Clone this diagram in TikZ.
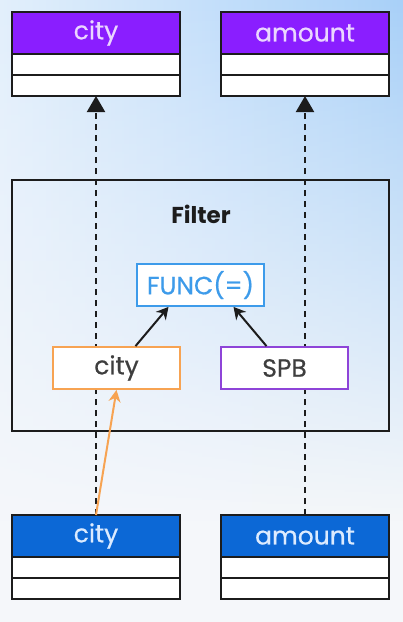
\documentclass[tikz,border=0pt]{standalone}
\usepackage{fontspec}
\setmainfont{Poppins}
\newfontfamily\medfont{Poppins}[FakeBold=0.6]
\usetikzlibrary{arrows.meta,calc,fadings}
\definecolor{hdpurple}{HTML}{8A1EFF}
\definecolor{hdblue}{HTML}{0C68D6}
\definecolor{txpurple}{HTML}{EBD6FF}
\definecolor{txblue}{HTML}{DCEBFF}
\definecolor{orangeln}{HTML}{F7A352}
\definecolor{spbpurple}{HTML}{8E44D8}
\definecolor{funcblue}{HTML}{3D9BEA}
\definecolor{bgleft}{HTML}{E2EFFC}
\definecolor{bgright}{HTML}{A8D0F8}
\definecolor{bgbot}{HTML}{F5F7FA}
\definecolor{ink}{HTML}{1C1C1C}
\tikzset{
  hdr/.style={draw=ink, line width=1.8pt, outer sep=0pt, minimum width=168pt, minimum height=42pt, inner sep=0pt, font=\medfont\fontsize{25}{28}\selectfont},
  row/.style={draw=ink, fill=white, line width=1.8pt, outer sep=0pt, minimum width=168pt, minimum height=21pt, inner sep=0pt},
  inbox/.style={fill=white, line width=1.8pt, minimum width=127pt, minimum height=42pt, inner sep=0pt, font=\medfont\fontsize{25}{28}\selectfont, text=ink!85},
  dashconn/.style={draw=ink, line width=2pt, dash pattern=on 6pt off 5pt, -{Triangle[width=18pt,length=16pt]}},
  solidconn/.style={draw=ink, line width=2pt, -{Stealth[width=13pt,length=12pt]}},
}
\begin{document}
\begin{tikzpicture}[x=1pt,y=-1pt]
\useasboundingbox (0,0) rectangle (403,622);
\fill[bgbot] (0,0) rectangle (403,622);
\shade[left color=bgleft, right color=bgright, path fading=south] (0,0) rectangle (403,520);
% top tables
\node[hdr, fill=hdpurple, text=txpurple] (tc) at (96,33) {city};
\node[row, anchor=north] (tc1) at (tc.south) {};
\node[row, anchor=north] (tc2) at (tc1.south) {};
\node[hdr, fill=hdpurple, text=txpurple] (ta) at (305,33) {amount};
\node[row, anchor=north] (ta1) at (ta.south) {};
\node[row, anchor=north] (ta2) at (ta1.south) {};
% bottom tables
\node[hdr, fill=hdblue, text=txblue] (bc) at (96,536) {city};
\node[row, anchor=north] (bc1) at (bc.south) {};
\node[row, anchor=north] (bc2) at (bc1.south) {};
\node[hdr, fill=hdblue, text=txblue] (ba) at (305,536) {amount};
\node[row, anchor=north] (ba1) at (ba.south) {};
\node[row, anchor=north] (ba2) at (ba1.south) {};
% dashed lineage
\draw[dashconn] (bc.north) -- (tc2.south);
\draw[dashconn] (ba.north) -- (ta2.south);
% filter box
\node[draw=ink, line width=1.8pt, minimum width=377pt, minimum height=251pt, inner sep=0pt] (filter) at (200.5,305.5) {};
\node[font=\bfseries\fontsize{23}{26}\selectfont, text=ink] (ftitle) at (201,214) {Filter};
\node[inbox, draw=funcblue, text=funcblue] (func) at (200.5,285) {FUNC(=)};
\node[inbox, draw=orangeln] (city) at (116.5,368) {city};
\node[inbox, draw=spbpurple] (spb) at (284.5,368) {SPB};
\draw[solidconn] ([xshift=19pt]city.north) -- ([xshift=-32pt]func.south);
\draw[solidconn] ([xshift=-18pt]spb.north) -- ([xshift=33pt]func.south);
\draw[orangeln, line width=2pt, -{Stealth[width=12pt,length=12pt]}] (bc.north) -- (city.south);
\end{tikzpicture}
\end{document}
